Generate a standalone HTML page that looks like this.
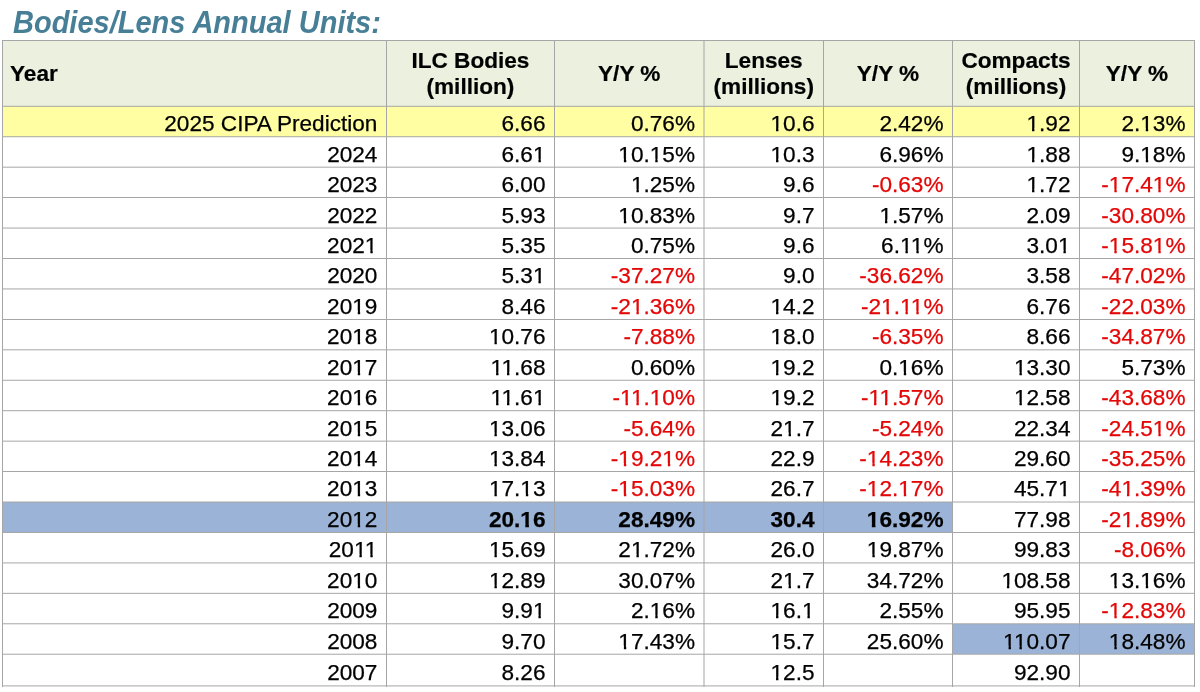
<!DOCTYPE html><html><head><meta charset="utf-8"><title>Bodies/Lens Annual Units</title><style>
html,body{margin:0;padding:0;background:#fff;}
body{width:1200px;height:692px;overflow:hidden;position:relative;font-family:"Liberation Sans",Arial,Helvetica,sans-serif;}
.t{position:absolute;left:13px;top:3px;transform:scaleY(1.055);transform-origin:0 30px;font-size:29px;font-weight:bold;font-style:italic;color:#477f97;white-space:nowrap;line-height:40px;}
.b,.l{position:absolute;}
.c{position:absolute;font-size:22.6px;line-height:26px;height:26px;white-space:nowrap;text-align:right;color:#000;box-sizing:border-box;padding-right:9px;letter-spacing:0px;-webkit-text-stroke:0.25px currentColor;}
.c.r{color:#e40606;}
.c.bd{font-weight:bold;}
.o{display:inline-block;clip-path:polygon(0 0,100% 0,100% 17px,0.35em 17px,0.35em 100%,0.245em 100%,0.245em 17px,0 17px);}
.k{margin-right:-0.074em;}
.bd .o{clip-path:polygon(0 0,100% 0,100% 16.8px,0.38em 16.8px,0.38em 100%,0.22em 100%,0.22em 16.8px,0 16.8px);}
.hd{position:absolute;font-size:22.6px;font-weight:bold;-webkit-text-stroke:0.2px #000;line-height:25.3px;text-align:center;white-space:nowrap;color:#000;}

</style></head><body>
<div class="t">Bodies/Lens Annual Units:</div>
<div class="b" style="left:2px;top:40px;width:1192px;height:66px;background:#ecf0df"></div>
<div class="b" style="left:2px;top:106px;width:384px;height:31px;background:#fffea3"></div>
<div class="b" style="left:386px;top:106px;width:168px;height:31px;background:#fffea3"></div>
<div class="b" style="left:554px;top:106px;width:150px;height:31px;background:#fffea3"></div>
<div class="b" style="left:704px;top:106px;width:120px;height:31px;background:#fffea3"></div>
<div class="b" style="left:824px;top:106px;width:128px;height:31px;background:#fffea3"></div>
<div class="b" style="left:952px;top:106px;width:128px;height:31px;background:#fffea3"></div>
<div class="b" style="left:1080px;top:106px;width:114px;height:31px;background:#fffea3"></div>
<div class="b" style="left:2px;top:502px;width:384px;height:30px;background:#9bb3d6"></div>
<div class="b" style="left:386px;top:502px;width:168px;height:30px;background:#9bb3d6"></div>
<div class="b" style="left:554px;top:502px;width:150px;height:30px;background:#9bb3d6"></div>
<div class="b" style="left:704px;top:502px;width:120px;height:30px;background:#9bb3d6"></div>
<div class="b" style="left:824px;top:502px;width:128px;height:30px;background:#9bb3d6"></div>
<div class="b" style="left:952px;top:624px;width:128px;height:30px;background:#9bb3d6"></div>
<div class="b" style="left:1080px;top:624px;width:114px;height:30px;background:#9bb3d6"></div>
<div class="hd" style="left:10px;top:60.5px;text-align:left">Year</div>
<div class="hd" style="left:386.4px;width:168.1px;top:48.4px">ILC Bodies<br>(million)</div>
<div class="hd" style="left:554.5px;width:149.5px;top:60.5px">Y/Y %</div>
<div class="hd" style="left:704px;width:119.5px;top:48.4px">Lenses<br>(millions)</div>
<div class="hd" style="left:823.5px;width:129px;top:60.5px">Y/Y %</div>
<div class="hd" style="left:952.5px;width:127px;top:48.4px">Compacts<br>(millions)</div>
<div class="hd" style="left:1079.5px;width:115px;top:60.5px">Y/Y %</div>
<div class="c" style="left:2.5px;width:383.9px;top:111.19px">2025 CIPA Prediction</div>
<div class="c" style="left:386.4px;width:168.1px;top:111.19px">6.66</div>
<div class="c" style="left:554.5px;width:149.5px;top:111.19px">0.76%</div>
<div class="c" style="left:704.0px;width:119.5px;top:111.19px"><span class="o">1</span>0.6</div>
<div class="c" style="left:823.5px;width:129.0px;top:111.19px">2.42%</div>
<div class="c" style="left:952.5px;width:127.0px;top:111.19px"><span class="o">1</span>.92</div>
<div class="c" style="left:1079.5px;width:115.0px;top:111.19px">2.<span class="o">1</span>3%</div>
<div class="c" style="left:2.5px;width:383.9px;top:141.63px">2024</div>
<div class="c" style="left:386.4px;width:168.1px;top:141.63px">6.6<span class="o">1</span></div>
<div class="c" style="left:554.5px;width:149.5px;top:141.63px"><span class="o">1</span>0.<span class="o">1</span>5%</div>
<div class="c" style="left:704.0px;width:119.5px;top:141.63px"><span class="o">1</span>0.3</div>
<div class="c" style="left:823.5px;width:129.0px;top:141.63px">6.96%</div>
<div class="c" style="left:952.5px;width:127.0px;top:141.63px"><span class="o">1</span>.88</div>
<div class="c" style="left:1079.5px;width:115.0px;top:141.63px">9.<span class="o">1</span>8%</div>
<div class="c" style="left:2.5px;width:383.9px;top:172.07px">2023</div>
<div class="c" style="left:386.4px;width:168.1px;top:172.07px">6.00</div>
<div class="c" style="left:554.5px;width:149.5px;top:172.07px"><span class="o">1</span>.25%</div>
<div class="c" style="left:704.0px;width:119.5px;top:172.07px">9.6</div>
<div class="c r" style="left:823.5px;width:129.0px;top:172.07px">-0.63%</div>
<div class="c" style="left:952.5px;width:127.0px;top:172.07px"><span class="o">1</span>.72</div>
<div class="c r" style="left:1079.5px;width:115.0px;top:172.07px">-<span class="o">1</span>7.4<span class="o">1</span>%</div>
<div class="c" style="left:2.5px;width:383.9px;top:202.51px">2022</div>
<div class="c" style="left:386.4px;width:168.1px;top:202.51px">5.93</div>
<div class="c" style="left:554.5px;width:149.5px;top:202.51px"><span class="o">1</span>0.83%</div>
<div class="c" style="left:704.0px;width:119.5px;top:202.51px">9.7</div>
<div class="c" style="left:823.5px;width:129.0px;top:202.51px"><span class="o">1</span>.57%</div>
<div class="c" style="left:952.5px;width:127.0px;top:202.51px">2.09</div>
<div class="c r" style="left:1079.5px;width:115.0px;top:202.51px">-30.80%</div>
<div class="c" style="left:2.5px;width:383.9px;top:232.95px">202<span class="o">1</span></div>
<div class="c" style="left:386.4px;width:168.1px;top:232.95px">5.35</div>
<div class="c" style="left:554.5px;width:149.5px;top:232.95px">0.75%</div>
<div class="c" style="left:704.0px;width:119.5px;top:232.95px">9.6</div>
<div class="c" style="left:823.5px;width:129.0px;top:232.95px">6.<span class="o k">1</span><span class="o">1</span>%</div>
<div class="c" style="left:952.5px;width:127.0px;top:232.95px">3.0<span class="o">1</span></div>
<div class="c r" style="left:1079.5px;width:115.0px;top:232.95px">-<span class="o">1</span>5.8<span class="o">1</span>%</div>
<div class="c" style="left:2.5px;width:383.9px;top:263.39px">2020</div>
<div class="c" style="left:386.4px;width:168.1px;top:263.39px">5.3<span class="o">1</span></div>
<div class="c r" style="left:554.5px;width:149.5px;top:263.39px">-37.27%</div>
<div class="c" style="left:704.0px;width:119.5px;top:263.39px">9.0</div>
<div class="c r" style="left:823.5px;width:129.0px;top:263.39px">-36.62%</div>
<div class="c" style="left:952.5px;width:127.0px;top:263.39px">3.58</div>
<div class="c r" style="left:1079.5px;width:115.0px;top:263.39px">-47.02%</div>
<div class="c" style="left:2.5px;width:383.9px;top:293.83px">20<span class="o">1</span>9</div>
<div class="c" style="left:386.4px;width:168.1px;top:293.83px">8.46</div>
<div class="c r" style="left:554.5px;width:149.5px;top:293.83px">-2<span class="o">1</span>.36%</div>
<div class="c" style="left:704.0px;width:119.5px;top:293.83px"><span class="o">1</span>4.2</div>
<div class="c r" style="left:823.5px;width:129.0px;top:293.83px">-2<span class="o">1</span>.<span class="o k">1</span><span class="o">1</span>%</div>
<div class="c" style="left:952.5px;width:127.0px;top:293.83px">6.76</div>
<div class="c r" style="left:1079.5px;width:115.0px;top:293.83px">-22.03%</div>
<div class="c" style="left:2.5px;width:383.9px;top:324.27px">20<span class="o">1</span>8</div>
<div class="c" style="left:386.4px;width:168.1px;top:324.27px"><span class="o">1</span>0.76</div>
<div class="c r" style="left:554.5px;width:149.5px;top:324.27px">-7.88%</div>
<div class="c" style="left:704.0px;width:119.5px;top:324.27px"><span class="o">1</span>8.0</div>
<div class="c r" style="left:823.5px;width:129.0px;top:324.27px">-6.35%</div>
<div class="c" style="left:952.5px;width:127.0px;top:324.27px">8.66</div>
<div class="c r" style="left:1079.5px;width:115.0px;top:324.27px">-34.87%</div>
<div class="c" style="left:2.5px;width:383.9px;top:354.71px">20<span class="o">1</span>7</div>
<div class="c" style="left:386.4px;width:168.1px;top:354.71px"><span class="o k">1</span><span class="o">1</span>.68</div>
<div class="c" style="left:554.5px;width:149.5px;top:354.71px">0.60%</div>
<div class="c" style="left:704.0px;width:119.5px;top:354.71px"><span class="o">1</span>9.2</div>
<div class="c" style="left:823.5px;width:129.0px;top:354.71px">0.<span class="o">1</span>6%</div>
<div class="c" style="left:952.5px;width:127.0px;top:354.71px"><span class="o">1</span>3.30</div>
<div class="c" style="left:1079.5px;width:115.0px;top:354.71px">5.73%</div>
<div class="c" style="left:2.5px;width:383.9px;top:385.15px">20<span class="o">1</span>6</div>
<div class="c" style="left:386.4px;width:168.1px;top:385.15px"><span class="o k">1</span><span class="o">1</span>.6<span class="o">1</span></div>
<div class="c r" style="left:554.5px;width:149.5px;top:385.15px">-<span class="o k">1</span><span class="o">1</span>.<span class="o">1</span>0%</div>
<div class="c" style="left:704.0px;width:119.5px;top:385.15px"><span class="o">1</span>9.2</div>
<div class="c r" style="left:823.5px;width:129.0px;top:385.15px">-<span class="o k">1</span><span class="o">1</span>.57%</div>
<div class="c" style="left:952.5px;width:127.0px;top:385.15px"><span class="o">1</span>2.58</div>
<div class="c r" style="left:1079.5px;width:115.0px;top:385.15px">-43.68%</div>
<div class="c" style="left:2.5px;width:383.9px;top:415.59px">20<span class="o">1</span>5</div>
<div class="c" style="left:386.4px;width:168.1px;top:415.59px"><span class="o">1</span>3.06</div>
<div class="c r" style="left:554.5px;width:149.5px;top:415.59px">-5.64%</div>
<div class="c" style="left:704.0px;width:119.5px;top:415.59px">2<span class="o">1</span>.7</div>
<div class="c r" style="left:823.5px;width:129.0px;top:415.59px">-5.24%</div>
<div class="c" style="left:952.5px;width:127.0px;top:415.59px">22.34</div>
<div class="c r" style="left:1079.5px;width:115.0px;top:415.59px">-24.5<span class="o">1</span>%</div>
<div class="c" style="left:2.5px;width:383.9px;top:446.03px">20<span class="o">1</span>4</div>
<div class="c" style="left:386.4px;width:168.1px;top:446.03px"><span class="o">1</span>3.84</div>
<div class="c r" style="left:554.5px;width:149.5px;top:446.03px">-<span class="o">1</span>9.2<span class="o">1</span>%</div>
<div class="c" style="left:704.0px;width:119.5px;top:446.03px">22.9</div>
<div class="c r" style="left:823.5px;width:129.0px;top:446.03px">-<span class="o">1</span>4.23%</div>
<div class="c" style="left:952.5px;width:127.0px;top:446.03px">29.60</div>
<div class="c r" style="left:1079.5px;width:115.0px;top:446.03px">-35.25%</div>
<div class="c" style="left:2.5px;width:383.9px;top:476.47px">20<span class="o">1</span>3</div>
<div class="c" style="left:386.4px;width:168.1px;top:476.47px"><span class="o">1</span>7.<span class="o">1</span>3</div>
<div class="c r" style="left:554.5px;width:149.5px;top:476.47px">-<span class="o">1</span>5.03%</div>
<div class="c" style="left:704.0px;width:119.5px;top:476.47px">26.7</div>
<div class="c r" style="left:823.5px;width:129.0px;top:476.47px">-<span class="o">1</span>2.<span class="o">1</span>7%</div>
<div class="c" style="left:952.5px;width:127.0px;top:476.47px">45.7<span class="o">1</span></div>
<div class="c r" style="left:1079.5px;width:115.0px;top:476.47px">-4<span class="o">1</span>.39%</div>
<div class="c" style="left:2.5px;width:383.9px;top:506.91px">20<span class="o">1</span>2</div>
<div class="c bd" style="left:386.4px;width:168.1px;top:506.91px">20.<span class="o">1</span>6</div>
<div class="c bd" style="left:554.5px;width:149.5px;top:506.91px">28.49%</div>
<div class="c bd" style="left:704.0px;width:119.5px;top:506.91px">30.4</div>
<div class="c bd" style="left:823.5px;width:129.0px;top:506.91px"><span class="o">1</span>6.92%</div>
<div class="c" style="left:952.5px;width:127.0px;top:506.91px">77.98</div>
<div class="c r" style="left:1079.5px;width:115.0px;top:506.91px">-2<span class="o">1</span>.89%</div>
<div class="c" style="left:2.5px;width:383.9px;top:537.35px">20<span class="o k">1</span><span class="o">1</span></div>
<div class="c" style="left:386.4px;width:168.1px;top:537.35px"><span class="o">1</span>5.69</div>
<div class="c" style="left:554.5px;width:149.5px;top:537.35px">2<span class="o">1</span>.72%</div>
<div class="c" style="left:704.0px;width:119.5px;top:537.35px">26.0</div>
<div class="c" style="left:823.5px;width:129.0px;top:537.35px"><span class="o">1</span>9.87%</div>
<div class="c" style="left:952.5px;width:127.0px;top:537.35px">99.83</div>
<div class="c r" style="left:1079.5px;width:115.0px;top:537.35px">-8.06%</div>
<div class="c" style="left:2.5px;width:383.9px;top:567.79px">20<span class="o">1</span>0</div>
<div class="c" style="left:386.4px;width:168.1px;top:567.79px"><span class="o">1</span>2.89</div>
<div class="c" style="left:554.5px;width:149.5px;top:567.79px">30.07%</div>
<div class="c" style="left:704.0px;width:119.5px;top:567.79px">2<span class="o">1</span>.7</div>
<div class="c" style="left:823.5px;width:129.0px;top:567.79px">34.72%</div>
<div class="c" style="left:952.5px;width:127.0px;top:567.79px"><span class="o">1</span>08.58</div>
<div class="c" style="left:1079.5px;width:115.0px;top:567.79px"><span class="o">1</span>3.<span class="o">1</span>6%</div>
<div class="c" style="left:2.5px;width:383.9px;top:598.23px">2009</div>
<div class="c" style="left:386.4px;width:168.1px;top:598.23px">9.9<span class="o">1</span></div>
<div class="c" style="left:554.5px;width:149.5px;top:598.23px">2.<span class="o">1</span>6%</div>
<div class="c" style="left:704.0px;width:119.5px;top:598.23px"><span class="o">1</span>6.<span class="o">1</span></div>
<div class="c" style="left:823.5px;width:129.0px;top:598.23px">2.55%</div>
<div class="c" style="left:952.5px;width:127.0px;top:598.23px">95.95</div>
<div class="c r" style="left:1079.5px;width:115.0px;top:598.23px">-<span class="o">1</span>2.83%</div>
<div class="c" style="left:2.5px;width:383.9px;top:628.67px">2008</div>
<div class="c" style="left:386.4px;width:168.1px;top:628.67px">9.70</div>
<div class="c" style="left:554.5px;width:149.5px;top:628.67px"><span class="o">1</span>7.43%</div>
<div class="c" style="left:704.0px;width:119.5px;top:628.67px"><span class="o">1</span>5.7</div>
<div class="c" style="left:823.5px;width:129.0px;top:628.67px">25.60%</div>
<div class="c" style="left:952.5px;width:127.0px;top:628.67px"><span class="o k">1</span><span class="o">1</span>0.07</div>
<div class="c" style="left:1079.5px;width:115.0px;top:628.67px"><span class="o">1</span>8.48%</div>
<div class="c" style="left:2.5px;width:383.9px;top:659.73px">2007</div>
<div class="c" style="left:386.4px;width:168.1px;top:659.73px">8.26</div>
<div class="c" style="left:704.0px;width:119.5px;top:659.73px"><span class="o">1</span>2.5</div>
<div class="c" style="left:952.5px;width:127.0px;top:659.73px">92.90</div>
<div class="l" style="left:2px;top:40px;width:1193px;height:1px;background:rgba(166,166,166,1.00)"></div>
<div class="l" style="left:2px;top:105px;width:1193px;height:1px;background:rgba(166,166,166,0.20)"></div>
<div class="l" style="left:2px;top:106px;width:1193px;height:1px;background:rgba(166,166,166,0.80)"></div>
<div class="l" style="left:2px;top:136px;width:1193px;height:1px;background:rgba(166,166,166,0.76)"></div>
<div class="l" style="left:2px;top:137px;width:1193px;height:1px;background:rgba(166,166,166,0.24)"></div>
<div class="l" style="left:2px;top:166px;width:1193px;height:1px;background:rgba(166,166,166,0.32)"></div>
<div class="l" style="left:2px;top:167px;width:1193px;height:1px;background:rgba(166,166,166,0.68)"></div>
<div class="l" style="left:2px;top:197px;width:1193px;height:1px;background:rgba(166,166,166,1.00)"></div>
<div class="l" style="left:2px;top:227px;width:1193px;height:1px;background:rgba(166,166,166,0.44)"></div>
<div class="l" style="left:2px;top:228px;width:1193px;height:1px;background:rgba(166,166,166,0.56)"></div>
<div class="l" style="left:2px;top:258px;width:1193px;height:1px;background:rgba(166,166,166,1.00)"></div>
<div class="l" style="left:2px;top:288px;width:1193px;height:1px;background:rgba(166,166,166,0.56)"></div>
<div class="l" style="left:2px;top:289px;width:1193px;height:1px;background:rgba(166,166,166,0.44)"></div>
<div class="l" style="left:2px;top:319px;width:1193px;height:1px;background:rgba(166,166,166,1.00)"></div>
<div class="l" style="left:2px;top:349px;width:1193px;height:1px;background:rgba(166,166,166,0.68)"></div>
<div class="l" style="left:2px;top:350px;width:1193px;height:1px;background:rgba(166,166,166,0.32)"></div>
<div class="l" style="left:2px;top:379px;width:1193px;height:1px;background:rgba(166,166,166,0.24)"></div>
<div class="l" style="left:2px;top:380px;width:1193px;height:1px;background:rgba(166,166,166,0.76)"></div>
<div class="l" style="left:2px;top:410px;width:1193px;height:1px;background:rgba(166,166,166,0.80)"></div>
<div class="l" style="left:2px;top:411px;width:1193px;height:1px;background:rgba(166,166,166,0.20)"></div>
<div class="l" style="left:2px;top:440px;width:1193px;height:1px;background:rgba(166,166,166,0.36)"></div>
<div class="l" style="left:2px;top:441px;width:1193px;height:1px;background:rgba(166,166,166,0.64)"></div>
<div class="l" style="left:2px;top:471px;width:1193px;height:1px;background:rgba(166,166,166,1.00)"></div>
<div class="l" style="left:2px;top:501px;width:1193px;height:1px;background:rgba(166,166,166,0.48)"></div>
<div class="l" style="left:2px;top:502px;width:1193px;height:1px;background:rgba(166,166,166,0.52)"></div>
<div class="l" style="left:2px;top:532px;width:1193px;height:1px;background:rgba(166,166,166,1.00)"></div>
<div class="l" style="left:2px;top:562px;width:1193px;height:1px;background:rgba(166,166,166,0.60)"></div>
<div class="l" style="left:2px;top:563px;width:1193px;height:1px;background:rgba(166,166,166,0.40)"></div>
<div class="l" style="left:2px;top:592px;width:1193px;height:1px;background:rgba(166,166,166,0.16)"></div>
<div class="l" style="left:2px;top:593px;width:1193px;height:1px;background:rgba(166,166,166,0.84)"></div>
<div class="l" style="left:2px;top:623px;width:1193px;height:1px;background:rgba(166,166,166,0.72)"></div>
<div class="l" style="left:2px;top:624px;width:1193px;height:1px;background:rgba(166,166,166,0.28)"></div>
<div class="l" style="left:2px;top:653px;width:1193px;height:1px;background:rgba(166,166,166,0.28)"></div>
<div class="l" style="left:2px;top:654px;width:1193px;height:1px;background:rgba(166,166,166,0.72)"></div>
<div class="l" style="left:2px;top:685px;width:1193px;height:1px;background:rgba(166,166,166,0.60)"></div>
<div class="l" style="left:2px;top:686px;width:1193px;height:1px;background:rgba(166,166,166,0.40)"></div>
<div class="l" style="left:2px;top:40px;width:1px;height:647px;background:rgba(166,166,166,1.00)"></div>
<div class="l" style="left:386px;top:40px;width:1px;height:647px;background:rgba(166,166,166,1.00)"></div>
<div class="l" style="left:554px;top:40px;width:1px;height:647px;background:rgba(166,166,166,1.00)"></div>
<div class="l" style="left:703px;top:40px;width:1px;height:647px;background:rgba(166,166,166,0.50)"></div>
<div class="l" style="left:704px;top:40px;width:1px;height:647px;background:rgba(166,166,166,0.50)"></div>
<div class="l" style="left:823px;top:40px;width:1px;height:647px;background:rgba(166,166,166,1.00)"></div>
<div class="l" style="left:952px;top:40px;width:1px;height:647px;background:rgba(166,166,166,1.00)"></div>
<div class="l" style="left:1079px;top:40px;width:1px;height:647px;background:rgba(166,166,166,1.00)"></div>
<div class="l" style="left:1194px;top:40px;width:1px;height:647px;background:rgba(166,166,166,1.00)"></div>
</body></html>
